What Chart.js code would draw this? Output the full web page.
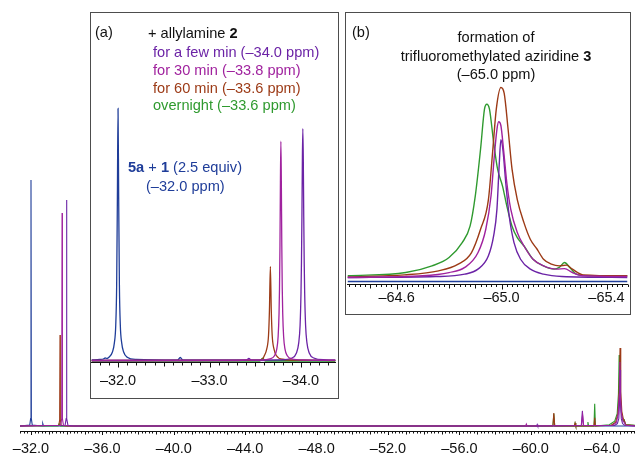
<!DOCTYPE html>
<html><head><meta charset="utf-8">
<script src="https://cdn.jsdelivr.net/npm/chart.js@4/dist/chart.umd.min.js"></script>
<style>
html,body{margin:0;padding:0;background:#fff;}
#wrap{position:relative;width:635px;height:455px;overflow:hidden;font-family:"Liberation Sans",Arial,sans-serif;color:#111;}
.box{position:absolute;box-sizing:border-box;border:1.5px solid #4d4d4d;background:#fff;}
canvas{position:absolute;left:0;top:0;}
.t{position:absolute;white-space:nowrap;font-size:14.6px;line-height:18px;}
</style></head><body>
<div id="wrap">
<canvas id="cMain" width="635" height="455"></canvas>
<div class="box" style="left:90px;top:12px;width:249px;height:387px;"><canvas id="cA" width="246" height="384"></canvas></div>
<div class="box" style="left:345px;top:12px;width:286px;height:303px;"><canvas id="cB" width="283" height="300"></canvas></div>
<div class="t" style="left:95px;top:23px;">(a)</div>
<div class="t" style="left:148px;top:24px;">+ allylamine <b>2</b></div>
<div class="t" style="left:153px;top:43px;color:#6b23a6;">for a few min (–34.0 ppm)</div>
<div class="t" style="left:153px;top:61px;color:#a0229e;">for 30 min (–33.8 ppm)</div>
<div class="t" style="left:153px;top:79px;color:#9c3a16;">for 60 min (–33.6 ppm)</div>
<div class="t" style="left:153px;top:96px;color:#2f9a2f;">overnight (–33.6 ppm)</div>
<div class="t" style="left:128px;top:158px;color:#1f3d99;"><b>5a</b> + <b>1</b> (2.5 equiv)</div>
<div class="t" style="left:146px;top:177px;color:#1f3d99;">(–32.0 ppm)</div>
<div class="t" style="left:352px;top:23px;">(b)</div>
<div class="t" style="left:346px;width:300px;text-align:center;top:28px;">formation of</div>
<div class="t" style="left:346px;width:300px;text-align:center;top:47px;">trifluoromethylated aziridine <b>3</b></div>
<div class="t" style="left:346px;width:300px;text-align:center;top:65px;">(–65.0 ppm)</div>
</div>
<script>
// ---------- tick labels ----------
const mainTickValues = [-32, -36, -40, -44, -48, -52, -56, -60, -64];
const mainTickLabels = ['–32.0', '–36.0', '–40.0', '–44.0', '–48.0', '–52.0', '–56.0', '–60.0', '–64.0'];
const aTickValues = [-32, -33, -34];
const aTickLabels = ['–32.0', '–33.0', '–34.0'];
const bTickValues = [-64.6, -65.0, -65.4];
const bTickLabels = ['–64.6', '–65.0', '–65.4'];

// ---------- series names / colours ----------
const seriesNames = ['for 30 min', 'for a few min', 'for 60 min', 'overnight', '5a + 1'];
const seriesColors = ['#a0229e', '#6b23a6', '#9c3a16', '#2f9a2f', '#1f3d99'];

// ---------- main spectrum  [ppm, intensity] ----------
const mainMagenta = [[-31.384,0],[-33.66,0.3],[-33.72,3],[-33.74,86.6],[-33.76,3],[-33.82,0.3],[-34.2,0],
  [-59.71,0],[-59.75,0.8],[-59.79,0],[-62.84,0.2],[-62.90,4.5],[-62.96,0.2],
  [-64.60,0.3],[-64.80,1.5],[-64.90,5],[-64.96,13],[-64.99,26],[-65.02,12],[-65.08,5],[-65.16,2],[-65.24,1.5],[-65.32,0.3],[-65.838,0]];
const mainPurple = [[-31.384,0],[-33.91,0.3],[-33.97,3],[-33.99,91.9],[-34.01,3],[-34.07,0.3],[-34.4,0],
  [-60.33,0],[-60.36,0.6],[-60.39,0],[-62.83,0.2],[-62.89,6.1],[-62.95,0.2],
  [-64.70,0.2],[-64.85,1],[-64.93,3],[-64.97,9],[-65.0,22.8],[-65.03,9],[-65.07,3],[-65.14,1],[-65.25,0.3],[-65.838,0]];
const mainBrown = [[-31.384,0],[-33.56,0.3],[-33.605,2.5],[-33.625,37],[-33.645,2.5],[-33.69,0.3],[-34.0,0],
  [-61.24,0],[-61.29,5.3],[-61.34,0],[-62.44,0],[-62.48,1.2],[-62.52,0],[-63.54,0],[-63.58,3.3],[-63.62,0],
  [-64.50,0.3],[-64.75,1.5],[-64.88,5],[-64.95,14],[-65.0,31.7],[-65.04,14],[-65.10,6],[-65.18,3],[-65.24,2.2],[-65.32,0.5],[-65.838,0.2]];
const mainGreen = [[-31.384,0],[-33.52,0],[-33.58,1],[-33.64,0],
  [-61.24,0],[-61.29,5.0],[-61.34,0],[-62.44,0],[-62.48,1.2],[-62.52,0],[-63.16,0],[-63.20,1.6],[-63.24,0],[-63.54,0],[-63.58,9],[-63.62,0],
  [-64.40,0.5],[-64.70,2],[-64.84,5],[-64.91,13],[-64.95,28.9],[-64.99,16],[-65.04,8],[-65.10,4],[-65.20,2],[-65.24,2.4],[-65.30,0.6],[-65.838,0.3]];
const mainBlue = [[-31.384,0],[-31.93,0.4],[-31.98,3],[-32.0,100],[-32.02,3],[-32.07,0.4],
  [-32.62,0],[-32.66,1.0],[-32.70,0],[-65.838,0]];

// ---------- inset (a) ----------
const aMagenta = [[-31.71,0],[-33.30,0],[-33.40,0.2],[-33.53,0.15],[-33.66,0.66],[-33.71,1.9],[-33.735,4.5],[-33.75,9.5],[-33.76,18.8],[-33.765,28.6],[-33.77,45.6],[-33.775,71],[-33.78,87],
  [-33.785,71],[-33.79,45.6],[-33.795,28.6],[-33.80,18.8],[-33.81,9.5],[-33.825,4.5],[-33.85,1.9],[-33.90,0.66],[-34.03,0.2],[-34.377,0.1]];
const aPurple = [[-31.71,0],[-33.40,0.1],[-33.43,0.8],[-33.46,0.1],[-33.77,0.25],[-33.90,1],[-33.95,3],[-33.975,7],[-33.99,14],[-34.0,27],[-34.005,39],[-34.01,57],[-34.015,80],[-34.02,92],
  [-34.025,80],[-34.03,57],[-34.035,39],[-34.04,27],[-34.05,14],[-34.065,7],[-34.09,3],[-34.14,1],[-34.27,0.25],[-34.377,0.13]];
const aBrown = [[-31.71,0],[-33.50,0.1],[-33.58,0.6],[-33.60,2],[-33.625,4.5],[-33.645,10],[-33.655,20],[-33.665,37.3],[-33.675,20],[-33.685,10],[-33.705,4.5],[-33.73,2],[-33.80,0.5],[-34.0,0.1],[-34.377,0]];
const aGreen = [[-31.71,-0.2],[-33.55,-0.2],[-33.58,0.9],[-33.61,-0.2],[-34.377,-0.2]];
const aBlue = [[-31.71,0.2],[-31.80,0.4],[-31.84,0.6],[-31.86,1.0],[-31.88,0.8],[-31.90,1.3],[-31.94,3.5],[-31.96,7],[-31.975,14],[-31.985,30],[-31.993,65],[-32.0,100],
  [-32.007,65],[-32.015,30],[-32.025,14],[-32.04,7],[-32.06,3.5],[-32.10,1.3],[-32.20,0.4],[-32.65,0.1],[-32.68,1.2],[-32.71,0.1],[-34.377,0]];

// ---------- inset (b) ----------
const bGreen = [[-64.413,0.9],[-64.635,2.6],[-64.735,6.1],[-64.80,10.5],[-64.85,18.4],[-64.88,27],[-64.90,43],[-64.92,67.5],[-64.935,88.6],[-64.944,91.2],[-64.954,88.6],[-64.97,71],[-64.985,57],
  [-65.004,48],[-65.02,37.7],[-65.04,27],[-65.06,21],[-65.085,16.7],[-65.12,9.6],[-65.16,6.1],[-65.20,4.4],[-65.22,5.3],[-65.24,7.9],[-65.26,5.3],[-65.285,1.75],[-65.335,0.9],[-65.48,0.9]];
const bBrown = [[-64.413,0.35],[-64.63,1.4],[-64.76,3.5],[-64.835,7],[-64.885,13],[-64.92,25.4],[-64.95,41],[-64.966,66],[-64.98,88.6],[-64.9975,100],[-65.01,97],[-65.025,78],[-65.04,57],
  [-65.06,41],[-65.085,29],[-65.11,20],[-65.135,15],[-65.16,9.6],[-65.19,7],[-65.22,6.1],[-65.2475,6.5],[-65.27,4.4],[-65.31,1.4],[-65.48,0.9]];
const bMagenta = [[-64.413,0],[-64.70,0.9],[-64.80,2.6],[-64.86,5.3],[-64.91,13],[-64.94,25.4],[-64.96,43],[-64.9725,64],[-64.9825,78],[-64.989,82],[-64.9975,80],[-65.0075,67.5],[-65.02,50],
  [-65.035,36],[-65.06,23.7],[-65.085,16.7],[-65.12,9.6],[-65.16,6.1],[-65.21,4.4],[-65.24,4.7],[-65.27,2.6],[-65.31,0.9],[-65.48,0.5]];
const bPurple = [[-64.413,0],[-64.75,0.5],[-64.86,1.75],[-64.91,4.4],[-64.95,11.4],[-64.97,22],[-64.9825,36],[-64.991,59],[-64.9975,72.5],[-65.005,67.5],[-65.016,50],[-65.029,32.5],
  [-65.0475,18.4],[-65.0725,9.6],[-65.11,4.4],[-65.16,1.75],[-65.23,0.5],[-65.48,0]];
const bBlue = [[-64.413,-2.1],[-65.48,-2.1]];

// ---------- helpers ----------
function mkDs(arr, i, w, smooth) {
  const d = {label: seriesNames[i], data: arr.map(p => ({x: p[0], y: p[1]})), borderColor: seriesColors[i],
    borderWidth: w, pointRadius: 0, fill: false, tension: 0, spanGaps: true};
  if (smooth) d.cubicInterpolationMode = 'monotone';
  return d;
}
const tickMarks = {
  id: 'tickMarks',
  afterDraw(chart, args, opts) {
    const s = chart.scales.x, ctx = chart.ctx;
    ctx.save(); ctx.strokeStyle = '#111'; ctx.lineWidth = 1;
    s.ticks.forEach(t => {
      const px = Math.round(s.getPixelForValue(t.value)) + 0.5;
      const r = t.value / opts.mid;
      const len = t.label ? opts.major : (Math.abs(r - Math.round(r)) < 1e-6 ? opts.midLen : opts.minor);
      ctx.beginPath(); ctx.moveTo(px, s.top); ctx.lineTo(px, s.top + len); ctx.stroke();
    });
    ctx.restore();
  }
};
function makeChart(id, sets, cfg) {
  new Chart(document.getElementById(id), {
    type: 'line',
    data: {datasets: sets},
    plugins: [tickMarks],
    options: {
      responsive: false, animation: false, devicePixelRatio: 1,
      layout: {padding: cfg.pad},
      plugins: {legend: {display: false}, tooltip: {enabled: false},
        tickMarks: {major: cfg.major, minor: cfg.minor, mid: cfg.mid, midLen: cfg.midLen}},
      scales: {
        x: {type: 'linear', reverse: true, min: cfg.xmin, max: cfg.xmax,
          grid: {display: false, drawTicks: false, tickLength: 0},
          border: {display: true, color: '#111', width: 1},
          afterFit: (sc) => { sc.height = cfg.axisH; },
          afterBuildTicks: (sc) => {
            const out = [];
            const st = cfg.step;
            for (let k = Math.ceil(cfg.xmin / st - 1e-6); k * st <= cfg.xmax + 1e-9; k++) out.push({value: +(k * st).toFixed(4)});
            sc.ticks = out;
          },
          ticks: {autoSkip: false, maxRotation: 0, padding: cfg.lpad, color: '#111',
            font: {family: 'Liberation Sans', size: cfg.fs},
            callback: (v) => { const i = cfg.tv.findIndex(t => Math.abs(t - v) < 1e-6); return i >= 0 ? cfg.tl[i] : ''; }}
        },
        y: {display: false, min: cfg.ymin, max: cfg.ymax}
      }
    }
  });
}
makeChart('cMain', [mkDs(mainMagenta,0,1.1), mkDs(mainPurple,1,1.1), mkDs(mainBrown,2,1.1), mkDs(mainGreen,3,1.1), mkDs(mainBlue,4,1.1)],
  {xmin: -65.838, xmax: -31.384, ymin: -2.03, ymax: 173.2, step: 0.2, mid: 1, tv: mainTickValues, tl: mainTickLabels,
   pad: {left: 20, right: 0, top: 0, bottom: 0}, axisH: 24, lpad: 9, fs: 14.5, major: 4, midLen: 3.5, minor: 2.5});
makeChart('cA', [mkDs(aMagenta,0,1.3,true), mkDs(aPurple,1,1.3,true), mkDs(aBrown,2,1.3,true), mkDs(aGreen,3,1.3,true), mkDs(aBlue,4,1.3,true)],
  {xmin: -34.377, xmax: -31.71, ymin: -0.79, ymax: 137.9, step: 0.1, mid: 0.5, tv: aTickValues, tl: aTickLabels,
   pad: {left: 0.5, right: 1.5, top: 0, bottom: 0}, axisH: 34.5, lpad: 10, fs: 14.5, major: 5, midLen: 4, minor: 3});
makeChart('cB', [mkDs(bMagenta,0,1.4,true), mkDs(bPurple,1,1.4,true), mkDs(bBrown,2,1.4,true), mkDs(bGreen,3,1.4,true), mkDs(bBlue,4,1.4,true)],
  {xmin: -65.48, xmax: -64.413, ymin: -3.68, ymax: 139.2, step: 0.02, mid: 0.1, tv: bTickValues, tl: bTickLabels,
   pad: {left: 1.5, right: 1.5, top: 0, bottom: 0}, axisH: 28.5, lpad: 4.6, fs: 14.5, major: 5, midLen: 4, minor: 2.5});
</script>
</body></html>
